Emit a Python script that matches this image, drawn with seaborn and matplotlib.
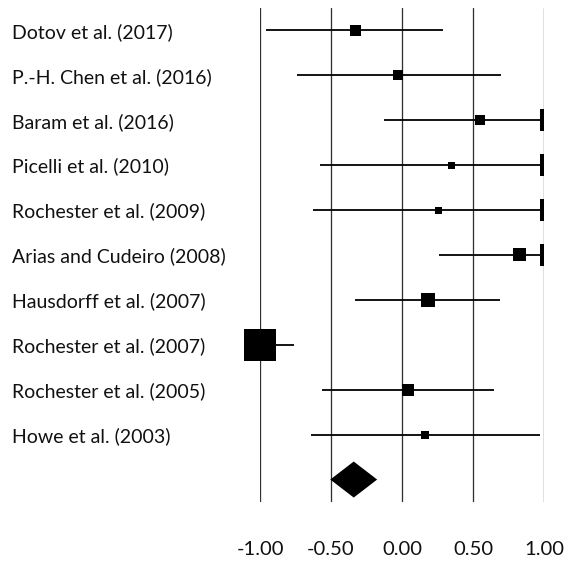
import matplotlib
matplotlib.use("Agg")
import matplotlib.pyplot as plt
import seaborn as sns
import pandas as pd
import numpy as np

# Studies, effect sizes (clipped to the plotted range) and confidence bounds
studies = [
    "Dotov et al. (2017)",
    "P.-H. Chen et al. (2016)",
    "Baram et al. (2016)",
    "Picelli et al. (2010)",
    "Rochester et al. (2009)",
    "Arias and Cudeiro (2008)",
    "Hausdorff et al. (2007)",
    "Rochester et al. (2007)",
    "Rochester et al. (2005)",
    "Howe et al. (2003)",
]
effect = [-0.33, -0.03, 0.55, 0.35, 0.26, 0.83, 0.18, -1.00, 0.04, 0.16]
lower = [-0.96, -0.74, -0.13, -0.58, -0.63, 0.26, -0.33, -1.00, -0.56, -0.64]
upper = [0.29, 0.70, 1.00, 1.00, 1.00, 1.00, 0.69, -0.76, 0.65, 0.97]
# study weight -> square side (pixels)
weight = [11, 10, 10, 7, 7, 13, 14, 32, 12, 8]

# pooled estimate
pooled = -0.34
pooled_lower = -0.505
pooled_upper = -0.175

xticks = [-1.0, -0.5, 0.0, 0.5, 1.0]

DPI = 100
W, H = 569, 563
sns.set_theme(style="white")
plt.rcParams["font.family"] = ["Lato", "DejaVu Sans"]

fig = plt.figure(figsize=(W / DPI, H / DPI), dpi=DPI)
left, right, top, bottom = 260, 544, 8, 502
ax = fig.add_axes([left / W, 1 - bottom / H, (right - left) / W, (bottom - top) / H])

rows = np.arange(len(studies))
df = pd.DataFrame({"study": studies, "row": rows, "effect": effect,
                   "lower": lower, "upper": upper, "weight": weight})

px = 72.0 / DPI  # points per pixel

# vertical reference lines
for xv in xticks:
    ax.axvline(xv, color="#303030", lw=1.3 * px, zorder=0)

# confidence intervals
ax.hlines(df["row"], df["lower"], df["upper"], color="black", lw=1.8 * px, zorder=2)

# truncation marks where an interval runs off the scale
trunc = df[df["upper"] >= 1.0]
ax.plot(trunc["upper"] - 4 / (right - left), trunc["row"], ls="none", marker="|",
        markersize=23 * px, markeredgewidth=4 * px, color="black", zorder=3, clip_on=False)

# weighted squares (side proportional to weight)
sizes = {w: (w * px) ** 2 for w in weight}
sns.scatterplot(data=df, x="effect", y="row", size="weight", sizes=sizes,
                marker="s", color="black", edgecolor="none", linewidth=0,
                legend=False, ax=ax, zorder=4, clip_on=False)

# pooled diamond
yd = len(studies)
half_h = 18 / ((bottom - top) / 11.0)
ax.fill([pooled_lower, pooled, pooled_upper, pooled],
        [yd, yd - half_h, yd, yd + half_h], color="black", zorder=4, lw=0)

ax.set_xlim(-1.0, 1.0)
ax.set_ylim(len(studies) + 0.5, -0.5)
for s in ax.spines.values():
    s.set_visible(False)

ax.set_xticks(xticks)
ax.set_xticklabels([f"{v:.2f}" for v in xticks], fontsize=14.6, color="#111111")
ax.tick_params(axis="x", length=0, pad=28)

ax.set_yticks(rows)
ax.set_yticklabels(studies, fontsize=14, color="#111111", ha="left")
ax.tick_params(axis="y", length=0, pad=(left - 12) * px)
ax.set_xlabel("")
ax.set_ylabel("")

fig.savefig("out.png", dpi=DPI)
